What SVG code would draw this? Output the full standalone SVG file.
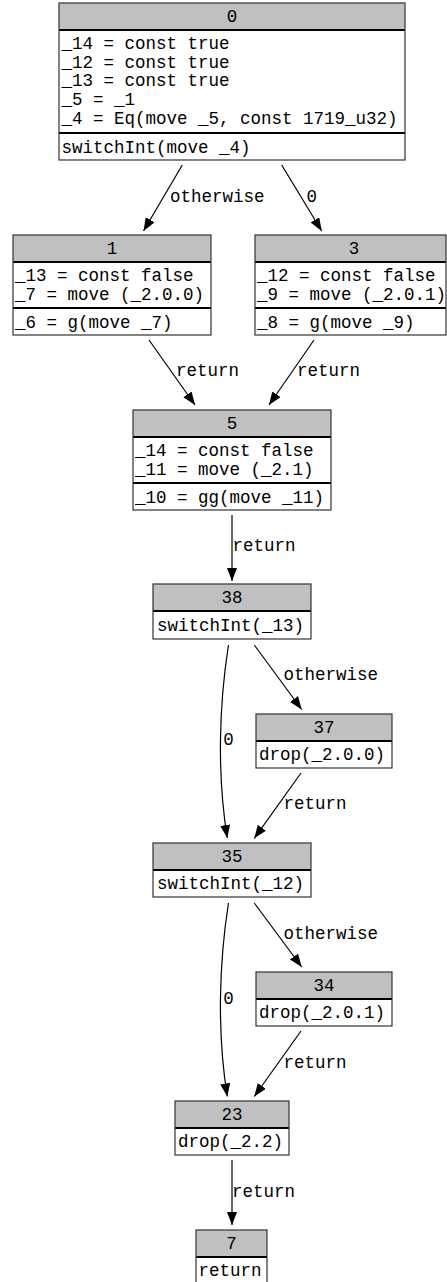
<svg xmlns="http://www.w3.org/2000/svg" width="447" height="1282" viewBox="0 0 447 1282">
  <style>
    text { font-family: "Liberation Mono", "Courier New", monospace; font-size: 17.5px; fill: #000; }
    .hdr { fill: #c0c0c0; }
    .box { fill: none; stroke: #333; stroke-width: 1.2; }
    .sep { stroke: #000; stroke-width: 2; }
    .mid { text-anchor: middle; }
    .edge { fill: none; stroke: #000; stroke-width: 1.2; marker-end: url(#arrow); }
  </style>
  <defs>
    <marker id="arrow" markerUnits="userSpaceOnUse" markerWidth="14" markerHeight="11" refX="13" refY="5" orient="auto">
      <path d="M0,0 L13,5 L0,10 z" fill="#000"/>
    </marker>
  </defs>
  <rect width="447" height="1282" fill="#fff"/>

  <!-- connectors -->
  <g id="edges">
    <path class="edge" d="M182.3,165 L143.5,231"/>
    <text x="170" y="202">otherwise</text>
    <path class="edge" d="M281.7,165 L321.7,231"/>
    <text x="306.5" y="202">0</text>

    <path class="edge" d="M149,340 L195,405"/>
    <text x="176" y="376">return</text>
    <path class="edge" d="M314,340 L269,405"/>
    <text x="297" y="376">return</text>

    <path class="edge" d="M232,515 L232,581"/>
    <text x="232.5" y="551">return</text>

    <path class="edge" d="M254.3,645 L301.7,709.5"/>
    <text x="283.5" y="680">otherwise</text>
    <path class="edge" d="M228.5,645 C219,705 217,775 227.3,838"/>
    <text x="223.3" y="745">0</text>
    <path class="edge" d="M301,773 L254.3,838.3"/>
    <text x="283.5" y="809">return</text>

    <path class="edge" d="M254.3,903 L301.7,967"/>
    <text x="283.5" y="938.5">otherwise</text>
    <path class="edge" d="M228.5,903 C219,963 217,1033 227.3,1096.5"/>
    <text x="223.3" y="1003.5">0</text>
    <path class="edge" d="M301,1031 L254.3,1096.5"/>
    <text x="283.5" y="1067.5">return</text>

    <path class="edge" d="M232,1160 L232,1225"/>
    <text x="232" y="1196.5">return</text>
  </g>

  <!-- block 0 -->
  <g id="node0">
    <rect class="hdr" x="59" y="3" width="346" height="27"/>
    <line class="sep" x1="59" y1="30" x2="405" y2="30"/>
    <line class="sep" x1="59" y1="133" x2="405" y2="133"/>
    <rect class="box" x="59" y="3" width="346" height="157"/>
    <text class="mid" x="232" y="22">0</text>
    <text x="61.5" y="49">_14 = const true</text>
    <text x="61.5" y="67.7">_12 = const true</text>
    <text x="61.5" y="86.3">_13 = const true</text>
    <text x="61.5" y="105">_5 = _1</text>
    <text x="61.5" y="123.7">_4 = Eq(move _5, const 1719_u32)</text>
    <text x="61.5" y="153">switchInt(move _4)</text>
  </g>

  <!-- block 1 -->
  <g id="node1">
    <rect class="hdr" x="13" y="235" width="198" height="27"/>
    <line class="sep" x1="13" y1="262" x2="211" y2="262"/>
    <line class="sep" x1="13" y1="308" x2="211" y2="308"/>
    <rect class="box" x="13" y="235" width="198" height="100"/>
    <text class="mid" x="112" y="254">1</text>
    <text x="15" y="281">_13 = const false</text>
    <text x="15" y="299.7">_7 = move (_2.0.0)</text>
    <text x="15" y="328">_6 = g(move _7)</text>
  </g>

  <!-- block 3 -->
  <g id="node3">
    <rect class="hdr" x="255" y="235" width="191" height="27"/>
    <line class="sep" x1="255" y1="262" x2="446" y2="262"/>
    <line class="sep" x1="255" y1="308" x2="446" y2="308"/>
    <rect class="box" x="255" y="235" width="191" height="100"/>
    <text class="mid" x="354" y="254">3</text>
    <text x="257" y="281">_12 = const false</text>
    <text x="257" y="299.7">_9 = move (_2.0.1)</text>
    <text x="257" y="328">_8 = g(move _9)</text>
  </g>

  <!-- block 5 -->
  <g id="node5">
    <rect class="hdr" x="133" y="410" width="198" height="27"/>
    <line class="sep" x1="133" y1="437" x2="331" y2="437"/>
    <line class="sep" x1="133" y1="483" x2="331" y2="483"/>
    <rect class="box" x="133" y="410" width="198" height="100"/>
    <text class="mid" x="232" y="429">5</text>
    <text x="135" y="456">_14 = const false</text>
    <text x="135" y="474.7">_11 = move (_2.1)</text>
    <text x="135" y="503">_10 = gg(move _11)</text>
  </g>

  <!-- block 38 -->
  <g id="node38">
    <rect class="hdr" x="153" y="584" width="158" height="27"/>
    <line class="sep" x1="153" y1="611" x2="311" y2="611"/>
    <rect class="box" x="153" y="584" width="158" height="55"/>
    <text class="mid" x="232" y="603">38</text>
    <text x="157" y="631">switchInt(_13)</text>
  </g>

  <!-- block 37 -->
  <g id="node37">
    <rect class="hdr" x="256" y="714" width="136" height="27"/>
    <line class="sep" x1="256" y1="741" x2="392" y2="741"/>
    <rect class="box" x="256" y="714" width="136" height="54"/>
    <text class="mid" x="324" y="733">37</text>
    <text x="259" y="760">drop(_2.0.0)</text>
  </g>

  <!-- block 35 -->
  <g id="node35">
    <rect class="hdr" x="153" y="843" width="158" height="27"/>
    <line class="sep" x1="153" y1="870" x2="311" y2="870"/>
    <rect class="box" x="153" y="843" width="158" height="54"/>
    <text class="mid" x="232" y="862">35</text>
    <text x="157" y="889">switchInt(_12)</text>
  </g>

  <!-- block 34 -->
  <g id="node34">
    <rect class="hdr" x="256" y="972" width="136" height="27"/>
    <line class="sep" x1="256" y1="999" x2="392" y2="999"/>
    <rect class="box" x="256" y="972" width="136" height="54"/>
    <text class="mid" x="324" y="991">34</text>
    <text x="259" y="1018">drop(_2.0.1)</text>
  </g>

  <!-- block 23 -->
  <g id="node23">
    <rect class="hdr" x="175" y="1101" width="114" height="27"/>
    <line class="sep" x1="175" y1="1128" x2="289" y2="1128"/>
    <rect class="box" x="175" y="1101" width="114" height="54"/>
    <text class="mid" x="232" y="1120">23</text>
    <text x="178" y="1147">drop(_2.2)</text>
  </g>

  <!-- block 7 -->
  <g id="node7">
    <rect class="hdr" x="196" y="1230" width="71" height="27"/>
    <line class="sep" x1="196" y1="1257" x2="267" y2="1257"/>
    <rect class="box" x="196" y="1230" width="71" height="55"/>
    <text class="mid" x="231.5" y="1249">7</text>
    <text x="198.5" y="1276">return</text>
  </g>
</svg>
